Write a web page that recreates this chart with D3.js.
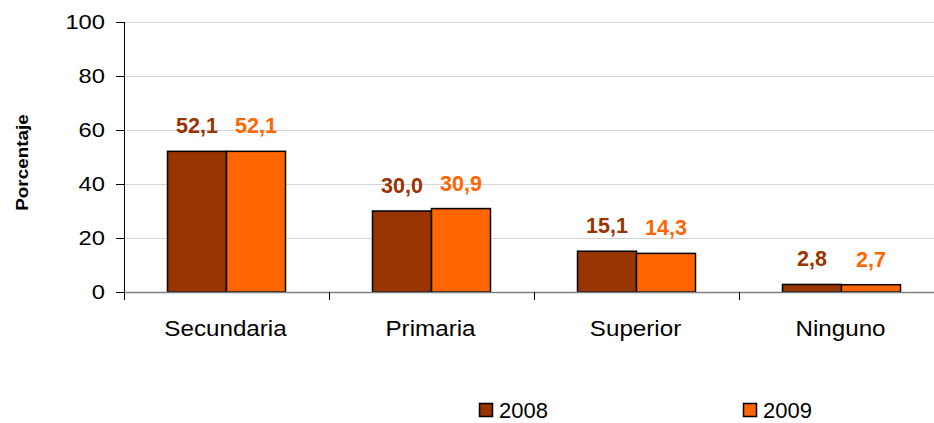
<!DOCTYPE html>
<html><head><meta charset="utf-8">
<script src="https://cdn.jsdelivr.net/npm/d3@7"></script>
<style>body{margin:0;background:#fff;}svg{display:block;font-family:"Liberation Sans",Arial,sans-serif;}</style>
</head><body>
<svg id="c" width="934" height="423"></svg>
<script>
const categories = ["Secundaria", "Primaria", "Superior", "Ninguno"];
const seriesNames = ["2008", "2009"];
const values2008 = [52.1, 30.0, 15.1, 2.8];
const values2009 = [52.1, 30.9, 14.3, 2.7];
const yTicks = [0, 20, 40, 60, 80, 100];
const colors = ["#993300", "#FF6600"];

(function () {
const svg = d3.select("#c");
const mLeft = 124, mRight = 944, mTop = 22, mBottom = 292;
const x = d3.scaleBand().domain(categories).range([mLeft, mRight]).paddingInner(0).paddingOuter(0);
const x1 = d3.scaleBand().domain(seriesNames).range([0, 118]);
const y = d3.scaleLinear().domain([0, 100]).range([mBottom, mTop]);

// gridlines
svg.append("g").selectAll("line").data(yTicks.filter(d => d > 0)).join("line")
  .attr("x1", mLeft).attr("x2", 934).attr("y1", d => Math.round(y(d)) + 0.5).attr("y2", d => Math.round(y(d)) + 0.5)
  .attr("stroke", "#d4d4d4").attr("stroke-width", 1);

const series = [values2008, values2009];
const off = (x.bandwidth() - 118) / 2;
categories.forEach((c, i) => {
  seriesNames.forEach((s, j) => {
    const v = series[j][i];
    const bx = x(c) + off + x1(s);
    svg.append("rect").attr("x", bx).attr("y", y(v)).attr("width", x1.bandwidth()).attr("height", y(0) - y(v))
      .attr("fill", colors[j]).attr("stroke", "#000").attr("stroke-width", 1.5);
    svg.append("text").attr("x", bx + x1.bandwidth() / 2).attr("y", y(v) - 18)
      .attr("text-anchor", "middle").attr("font-weight", "bold").attr("font-size", 21.5)
      .attr("fill", colors[j]).text(d3.format(".1f")(v).replace(".", ","));
  });
});

// x axis
const xa = svg.append("g");
xa.append("line").attr("x1", mLeft).attr("x2", 934).attr("y1", mBottom + 0.5).attr("y2", mBottom + 0.5).attr("stroke", "#808080").attr("stroke-width", 1.5);
const bounds = categories.map(c => x(c)).concat([mRight]);
xa.selectAll("line.t").data(bounds.slice(1, 4)).join("line").attr("class", "t")
  .attr("x1", d => Math.round(d) + 0.5).attr("x2", d => Math.round(d) + 0.5).attr("y1", mBottom).attr("y2", mBottom + 8).attr("stroke", "#000");
xa.selectAll("text").data(categories).join("text")
  .attr("transform", d => `translate(${x(d) + x.bandwidth() / 2 - 1},336) scale(1.1,1)`).attr("text-anchor", "middle")
  .attr("font-size", 22).attr("fill", "#000").text(d => d);

// y axis
const ya = svg.append("g");
ya.append("line").attr("x1", mLeft + 0.5).attr("x2", mLeft + 0.5).attr("y1", mTop).attr("y2", mBottom + 8).attr("stroke", "#000");
ya.selectAll("line.t").data(yTicks).join("line").attr("class", "t")
  .attr("x1", mLeft - 8).attr("x2", mLeft).attr("y1", d => Math.round(y(d)) + 0.5).attr("y2", d => Math.round(y(d)) + 0.5).attr("stroke", "#000");
ya.selectAll("text").data(yTicks).join("text")
  .attr("transform", d => `translate(105,${y(d) + 6.5}) scale(1.13,1)`).attr("text-anchor", "end")
  .attr("font-size", 21).attr("fill", "#000").text(d => d);

svg.append("text").attr("transform", "translate(28,162.5) rotate(-90) scale(1.18,1)").attr("text-anchor", "middle")
  .attr("font-size", 16).attr("font-weight", "bold").text("Porcentaje");

// legend
const legX = [479, 743];
seriesNames.forEach((s, j) => {
  svg.append("rect").attr("x", legX[j] + 0.5).attr("y", 403.5).attr("width", 13).attr("height", 13)
    .attr("fill", colors[j]).attr("stroke", "#000").attr("stroke-width", 1.5);
  svg.append("text").attr("x", legX[j] + 20).attr("y", 418).attr("font-size", 22).text(s);
});
})();
</script>
</body></html>
